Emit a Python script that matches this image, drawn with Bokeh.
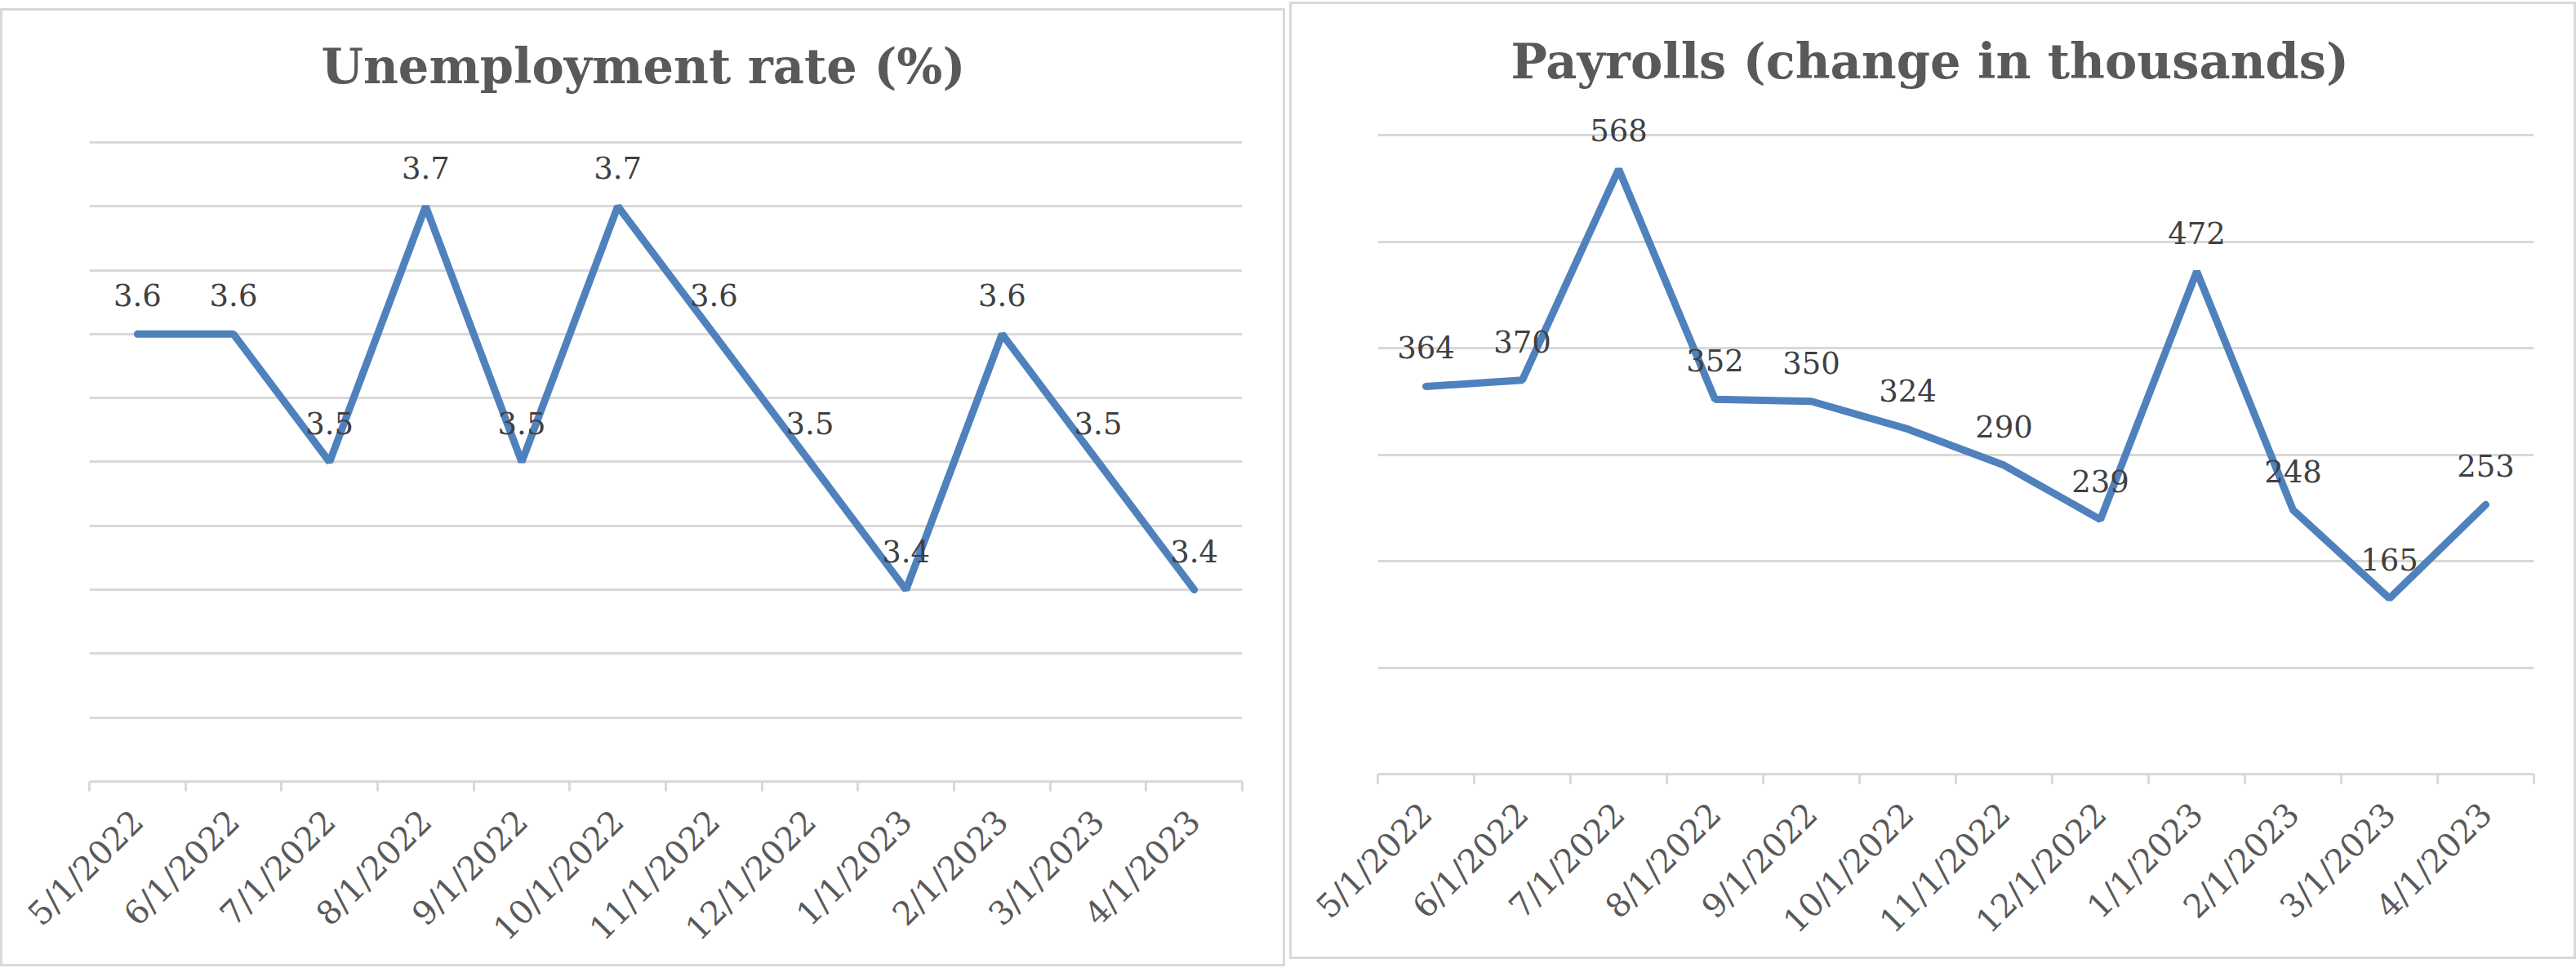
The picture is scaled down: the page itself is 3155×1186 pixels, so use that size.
from bokeh.plotting import figure
from bokeh.layouts import row
from bokeh.models import FixedTicker, Range1d
from bokeh.core.properties import value
from bokeh.embed import file_html
from bokeh.resources import INLINE

# ---- data ----
dates = ["5/1/2022", "6/1/2022", "7/1/2022", "8/1/2022", "9/1/2022", "10/1/2022",
         "11/1/2022", "12/1/2022", "1/1/2023", "2/1/2023", "3/1/2023", "4/1/2023"]
unemployment = [3.6, 3.6, 3.5, 3.7, 3.5, 3.7, 3.6, 3.5, 3.4, 3.6, 3.5, 3.4]
payrolls = [364, 370, 568, 352, 350, 324, 290, 239, 472, 248, 165, 253]
unemp_gridlines = [3.25, 3.30, 3.35, 3.40, 3.45, 3.50, 3.55, 3.60, 3.65, 3.70, 3.75]
payroll_gridlines = [0, 100, 200, 300, 400, 500, 600]

FONT = "DejaVu Serif"
GRID = "#D9D9D9"
LINE = "#4F81BD"

n = len(dates)
centers = [i + 0.5 for i in range(n)]
bounds = [float(i) for i in range(n + 1)]


def make_panel(title, values, labels, gridlines, width, height, top_margin,
               bl, br, frame_top, grid_top_px, grid_bottom_px, title_offset, standoff):
    lo, hi = gridlines[0], gridlines[-1]
    # extend the (invisible) frame above the top gridline so labels are not clipped
    y_end = hi + (hi - lo) * (grid_top_px - frame_top) / (grid_bottom_px - grid_top_px)
    p = figure(width=width, height=height, output_backend="svg", toolbar_location=None,
               x_range=Range1d(0, n), y_range=Range1d(lo, y_end),
               min_border_left=bl, min_border_right=br, min_border_top=frame_top,
               min_border_bottom=height - grid_bottom_px, title=title,
               margin=(top_margin, 0, 0, 0),
               styles={"outline": "3px solid #D9D9D9", "outline-offset": "-3px"})
    p.outline_line_color = None
    p.background_fill_alpha = 0
    p.border_fill_alpha = 0

    p.title.text_font = FONT
    p.title.text_font_style = "bold"
    p.title.text_font_size = "59px"
    p.title.text_color = "#595959"
    p.title.align = "left"
    p.title.offset = title_offset
    p.title.standoff = standoff

    p.yaxis.visible = False
    p.xgrid.visible = False
    p.ygrid.ticker = FixedTicker(ticks=gridlines)
    p.ygrid.grid_line_color = GRID
    p.ygrid.grid_line_width = 3

    ax = p.xaxis[0]
    ax.ticker = FixedTicker(ticks=centers, minor_ticks=bounds)
    ax.major_label_overrides = {c: d for c, d in zip(centers, dates)}
    ax.major_label_orientation = 0.785398
    ax.major_tick_line_color = None
    ax.major_tick_out = 0
    ax.major_tick_in = 0
    ax.minor_tick_line_color = GRID
    ax.minor_tick_line_width = 3
    ax.minor_tick_out = 12
    ax.minor_tick_in = 0
    ax.axis_line_color = GRID
    ax.axis_line_width = 3
    ax.major_label_text_font = FONT
    ax.major_label_text_font_size = "40px"
    ax.major_label_text_color = "#595959"
    ax.major_label_standoff = 30

    p.line(centers, values, line_color=LINE, line_width=9, line_cap="round")
    p.text(centers, values, text=labels, text_font=value(FONT), text_font_size="37px",
           text_color="#404040", text_align="center", text_baseline="bottom",
           y_offset=-34)
    return p


left = make_panel("Unemployment rate (%)", unemployment,
                  [f"{v:.1f}" for v in unemployment], unemp_gridlines,
                  width=1574, height=1174, top_margin=10, bl=109, br=53,
                  frame_top=120, grid_top_px=164, grid_bottom_px=948,
                  title_offset=284, standoff=30)
right = make_panel("Payrolls (change in thousands)", payrolls,
                   [str(v) for v in payrolls], payroll_gridlines,
                   width=1576, height=1173, top_margin=2, bl=108, br=52,
                   frame_top=120, grid_top_px=163, grid_bottom_px=946,
                   title_offset=163, standoff=26)

layout = row(left, right, spacing=5)
open("out.html", "w").write(file_html(layout, INLINE))
